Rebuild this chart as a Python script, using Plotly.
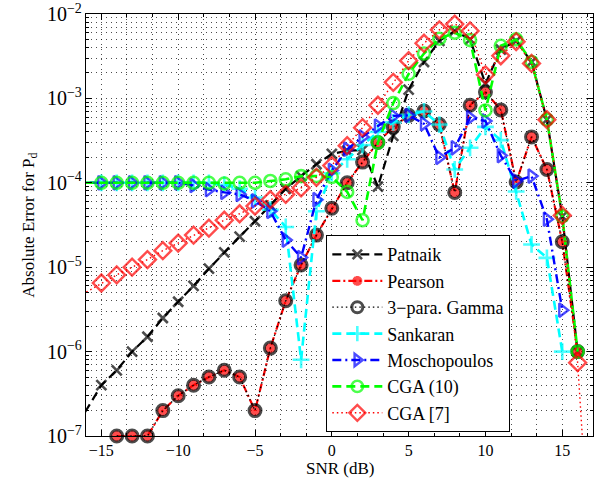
import plotly.graph_objects as go

# SNR grid (dB); -17 / 17 are off-axis points that only carry the line to the frame
snr = [-17, -15, -14, -13, -12, -11, -10, -9, -8, -7, -6, -5, -4, -3, -2, -1, 0,
       1, 2, 3, 4, 5, 6, 7, 8, 9, 10, 11, 12, 13, 14, 15, 16, 17]

patnaik = [1.0e-7, 4.0e-7, 6.0e-7, 1.0e-6, 1.5e-6, 2.5e-6, 3.9e-6, 6.0e-6, 9.6e-6, 1.5e-5,
           2.3e-5, 3.5e-5, 5.4e-5, 8.5e-5, 1.2e-4, 1.66e-4, 2.2e-4,
           2.4e-4, 2.45e-4, 9.0e-5, 3.6e-4, 1.27e-3, 2.7e-3, 4.8e-3, 6.3e-3, 5.0e-3,
           1.5e-3, 3.8e-3, 4.8e-3, 2.7e-3, 5.6e-4, 4.0e-5, 1.0e-6, None]

pearson = [None, None, 1.0e-7, 1.0e-7, 1.0e-7, 2.0e-7, 3.0e-7, 4.0e-7, 5.0e-7, 6.0e-7,
           5.0e-7, 2.0e-7, 1.1e-6, 4.0e-6, 1.06e-5, 2.4e-5, 5.0e-5,
           1.0e-4, 1.76e-4, 3.0e-4, 4.6e-4, 6.3e-4, 7.1e-4, 4.9e-4, 7.7e-5, 8.3e-4,
           1.19e-3, 7.3e-4, 1.02e-4, 3.5e-4, 1.44e-4, 2.0e-5, 1.0e-6, None]

gamma3 = [None, None, 1.0e-7, 1.0e-7, 1.0e-7, 2.0e-7, 3.0e-7, 4.0e-7, 5.0e-7, 6.0e-7,
          5.0e-7, 2.0e-7, 1.1e-6, 4.0e-6, 1.06e-5, 2.4e-5, 5.0e-5,
          1.0e-4, 1.76e-4, 3.0e-4, 4.6e-4, 6.3e-4, 7.1e-4, 4.9e-4, 7.7e-5, 8.3e-4,
          1.19e-3, 7.3e-4, 1.02e-4, 3.5e-4, 1.44e-4, 2.0e-5, 1.0e-6, None]

sankaran = [1.0e-4, 1.0e-4, 1.0e-4, 1.0e-4, 1.0e-4, 1.0e-4, 1.0e-4, 1.0e-4, 1.0e-4, 9.5e-5,
            8.5e-5, 6.7e-5, 4.8e-5, 3.0e-5, 8.0e-7, 4.6e-5, 1.3e-4,
            1.9e-4, 2.8e-4, 4.0e-4, 5.2e-4, 6.4e-4, 7.0e-4, 4.9e-4, 1.44e-4, 2.6e-4,
            4.6e-4, 3.2e-4, 7.9e-5, 1.86e-5, 1.29e-5, 1.0e-6, None, None]

moschopoulos = [1.0e-4, 1.0e-4, 1.0e-4, 1.0e-4, 1.0e-4, 1.0e-4, 1.0e-4, 9.3e-5, 8.3e-5, 7.7e-5,
                7.3e-5, 6.1e-5, 4.6e-5, 2.1e-5, 1.3e-5, 6.3e-5, 1.4e-4,
                2.5e-4, 3.5e-4, 4.7e-4, 6.2e-4, 6.3e-4, 5.0e-4, 2.0e-4, 2.6e-4, 5.9e-4,
                5.4e-4, 2.1e-4, 1.05e-4, 1.2e-4, 3.7e-5, 3.1e-6, None, None]

cga10 = [1.0e-4, 1.0e-4, 1.0e-4, 1.0e-4, 1.0e-4, 1.0e-4, 1.0e-4, 1.0e-4, 1.0e-4, 0.98e-4,
         1.0e-4, 1.0e-4, 1.05e-4, 1.1e-4, 1.2e-4, 1.2e-4, 1.17e-4,
         7.8e-5, 3.6e-5, 3.0e-4, 8.8e-4, 1.95e-3, 3.4e-3, 5.1e-3, 6.0e-3, 4.9e-3,
         7.2e-4, 4.2e-3, 5.0e-3, 2.7e-3, 5.6e-4, 4.0e-5, 1.0e-6, None]

cga7 = [4.0e-6, 6.5e-6, 8.1e-6, 1.0e-5, 1.23e-5, 1.57e-5, 1.93e-5, 2.4e-5, 2.9e-5, 3.6e-5,
        4.3e-5, 5.3e-5, 6.3e-5, 7.3e-5, 8.7e-5, 1.16e-4, 1.6e-4,
        2.75e-4, 4.5e-4, 8.3e-4, 1.55e-3, 2.8e-3, 4.5e-3, 6.5e-3, 7.6e-3, 6.3e-3,
        1.9e-3, 3.2e-3, 4.7e-3, 2.6e-3, 5.6e-4, 4.1e-5, 7.4e-7, 1.0e-9]

series_names = ["Patnaik", "Pearson", "3\u2212para. Gamma", "Sankaran",
                "Moschopoulos", "CGA (10)", "CGA [7]"]

x_title = "SNR (dB)"
y_title = "Absolute Error for P<sub>d</sub>"

X_RANGE = (-16, 17)
Y_RANGE = (1e-7, 1e-2)


def sizes(xs, ys, s):
    out = []
    for x, y in zip(xs, ys):
        if y is None or x < X_RANGE[0] or x > X_RANGE[1] or y < Y_RANGE[0] * 0.999 or y > Y_RANGE[1]:
            out.append(0)
        else:
            out.append(s)
    return out


styles = [
    dict(y=patnaik, color="#000000", dash="9px,5px", lw=2.2, symbol="x-thin-open", ms=10, mlw=2.6),
    dict(y=pearson, color="#ff0000", dash="8px,3px,2px,3px", lw=2.2, symbol="asterisk-open", ms=9, mlw=3.2),
    dict(y=gamma3, color="#000000", dash="1.5px,3px", lw=1.3, symbol="circle-open", ms=12, mlw=3.0),
    dict(y=sankaran, color="#00ffff", dash="9px,5px", lw=2.6, symbol="cross-thin-open", ms=12, mlw=2.6),
    dict(y=moschopoulos, color="#0000ff", dash="9px,4px,2px,4px", lw=2.4, symbol="triangle-right-open", ms=12, mlw=2.4),
    dict(y=cga10, color="#00ff00", dash="9px,5px", lw=2.6, symbol="circle-open", ms=12, mlw=2.6),
    dict(y=cga7, color="#ff0000", dash="1.5px,3px", lw=1.4, symbol="diamond-open", ms=13, mlw=2.4),
]

fig = go.Figure()
for name, st in zip(series_names, styles):
    fig.add_trace(go.Scatter(
        x=snr, y=st["y"], name=name, mode="lines+markers",
        connectgaps=False, cliponaxis=False,
        line=dict(color=st["color"], width=st["lw"], dash=st["dash"]),
        marker=dict(symbol=st["symbol"], size=sizes(snr, st["y"], st["ms"]),
                    color=st["color"], line=dict(color=st["color"], width=st["mlw"])),
    ))

grid_col = "rgba(0,0,0,0.7)"
font_family = "Liberation Serif"

fig.update_layout(
    width=603, height=483,
    margin=dict(l=86, r=10, t=14, b=47, autoexpand=False),
    paper_bgcolor="white", plot_bgcolor="white",
    font=dict(family=font_family, size=16, color="black"),
    showlegend=True,
    legend=dict(
        x=0.474, y=0.009, xanchor="left", yanchor="bottom",
        bgcolor="white", bordercolor="black", borderwidth=1,
        font=dict(family=font_family, size=18, color="black"),
        itemwidth=50, tracegroupgap=0,
    ),
    xaxis=dict(
        range=list(X_RANGE), tick0=0, dtick=5, automargin=False,
        ticklabeloverflow="allow",
        showline=True, linecolor="black", linewidth=1, mirror="allticks",
        ticks="inside", ticklen=6, tickcolor="black",
        showgrid=True, gridcolor=grid_col, gridwidth=1, griddash="1px,4px",
        zeroline=False,
        minor=dict(tick0=0, dtick=5/3, showgrid=True, gridcolor=grid_col, gridwidth=1,
                   griddash="1px,4px", ticks="inside", ticklen=3, tickcolor="black"),
        tickfont=dict(size=16),
    ),
    yaxis=dict(
        type="log", range=[-7, -2], dtick=1, exponentformat="power", automargin=False,
        ticklabeloverflow="allow",
        showline=True, linecolor="black", linewidth=1, mirror="allticks",
        ticks="inside", ticklen=6, tickcolor="black",
        showgrid=True, gridcolor=grid_col, gridwidth=1, griddash="1px,4px",
        zeroline=False,
        minor=dict(dtick="D1", showgrid=True, gridcolor=grid_col, gridwidth=1,
                   griddash="1px,4px", ticks="inside", ticklen=3, tickcolor="black"),
        tickfont=dict(size=16),
    ),
    annotations=[
        dict(text=x_title, xref="paper", yref="paper", x=0.5, y=-0.077,
             xanchor="center", yanchor="middle", showarrow=False, font=dict(size=17)),
        dict(text=y_title, xref="paper", yref="paper", x=-0.111, y=0.5,
             xanchor="center", yanchor="middle", textangle=-90, showarrow=False,
             font=dict(size=17)),
    ],
)

# remove the browser's default 8px body margin so the figure sits at the page origin
fig.write_html("out.html", config={"displayModeBar": False},
               post_script="document.body.style.margin='0px';")
